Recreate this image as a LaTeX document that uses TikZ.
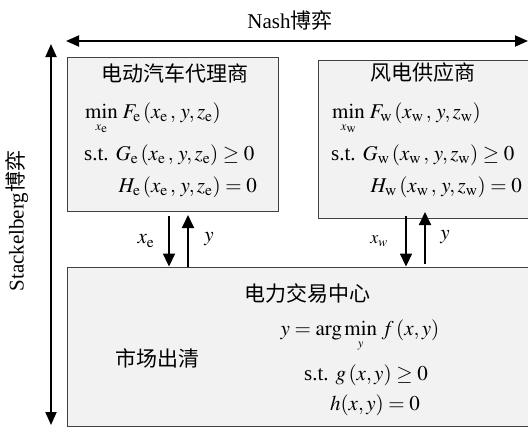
\documentclass[tikz,border=0pt]{standalone}
\usepackage{mathptmx}
\usepackage{fontspec}
\setmainfont{Liberation Serif}
\newfontfamily\cjk{Noto Sans CJK SC}
\usetikzlibrary{arrows.meta}

\tikzset{
  panel/.style={draw=black!75, line width=0.9pt, fill=black!5, inner sep=0pt},
  arr/.style={line width=1.8pt, -{Triangle[length=13pt,width=12pt]}},
  biarr/.style={line width=1.8pt, {Triangle[length=13pt,width=11pt]}-{Triangle[length=13pt,width=11pt]}},
  txt/.style={font=\fontsize{21}{24}\selectfont, inner sep=0pt},
  head/.style={font=\cjk\fontsize{21}{24}\selectfont, inner sep=0pt},
  lbl/.style={font=\fontsize{21}{24}\selectfont, inner sep=0pt}
}
\newcommand{\sube}{\mathrm{e}}
\newcommand{\subw}{\mathrm{w}}
\newcommand{\cm}{\,,\,}
% minimum with a small, lowered variable underneath
\newcommand{\minover}[1]{\mathop{\min}\limits_{\rule{0pt}{8pt}\scriptscriptstyle #1}}

\begin{document}
\begin{tikzpicture}[x=1pt, y=-1pt]
  \useasboundingbox (0,0) rectangle (528,429);
  \clip (0,0) rectangle (528,429);

  % the three decision makers
  \node[panel, minimum width=211pt, minimum height=154pt] (ev) at (172.5,134) {};
  \node[panel, minimum width=222pt, minimum height=158pt] (wind) at (429,139) {};
  \node[panel, minimum width=480pt, minimum height=159pt] (market) at (307,346.5) {};

  % game labels and their arrows
  \node[lbl] (nash) at (290,20) {Nash{\cjk 博弈}};
  \node[lbl, rotate=90] (stack) at (17,221) {Stackelberg{\cjk 博弈}};
  \coordinate (nl) at (66,41);
  \coordinate (nr) at (528,41);
  \draw[biarr] (nl) -- (nr);
  \coordinate (st) at (51,44);
  \coordinate (sb) at (51,425);
  \draw[biarr] (st) -- (sb);

  % EV aggregator
  \node[head] (evh) at (175,73) {电动汽车代理商};
  \node[txt, anchor=base west] (evobj) at (85,118)
    {$\minover{x_\sube}\,F_\sube\,(x_\sube\cm y, z_\sube)$};
  \node[txt, anchor=west] (evg) at (84,155)
    {s.t. $G_\sube\,(x_\sube\cm y, z_\sube) \geq 0$};
  \node[txt, anchor=east] (evh2) at (257,187)
    {$H_\sube\,(x_\sube\cm y, z_\sube) = 0$};

  % wind power supplier
  \node[head] (wh) at (423,73) {风电供应商};
  \node[txt, anchor=base west] (wobj) at (332,118)
    {$\minover{x_\subw}\,F_\subw\,(x_\subw\cm y, z_\subw)$};
  \node[txt, anchor=west] (wg) at (331,155)
    {s.t. $G_\subw\,(x_\subw\cm y, z_\subw) \geq 0$};
  \node[txt, anchor=east] (wh2) at (522,187)
    {$H_\subw\,(x_\subw\cm y, z_\subw) = 0$};

  % trading centre
  \node[head] (mh) at (307,293) {电力交易中心};
  \node[head] (clear) at (157,358) {市场出清};
  \node[txt, anchor=base] (mobj) at (360,335)
    {$y = \arg\minover{y}\,f\,(x, y)$};
  \node[txt] (mg) at (366,375) {s.t. $g\,(x, y) \geq 0$};
  \node[txt] (mh2) at (375,405) {$h(x, y) = 0$};

  % exchanged quantities
  \coordinate (ed) at (169,216);
  \coordinate (eu) at (188,215);
  \draw[arr] (ed) -- (ed |- market.north);
  \draw[arr] (eu |- market.north) -- (eu);
  \node[lbl] (xe) at (146,241) {$x_\sube$};
  \node[lbl] (ye) at (209,239) {$y$};

  \coordinate (wd) at (406,216);
  \coordinate (wu) at (425,212);
  \coordinate (wub) at (425,264);
  \draw[arr] (wd) -- (wd |- market.north);
  \draw[arr] (wub) -- (wu);
  \node[lbl, font=\fontsize{18}{20}\selectfont] (xw) at (379,241) {$x_w$};
  \node[lbl] (yw) at (445,237) {$y$};
\end{tikzpicture}
\end{document}
